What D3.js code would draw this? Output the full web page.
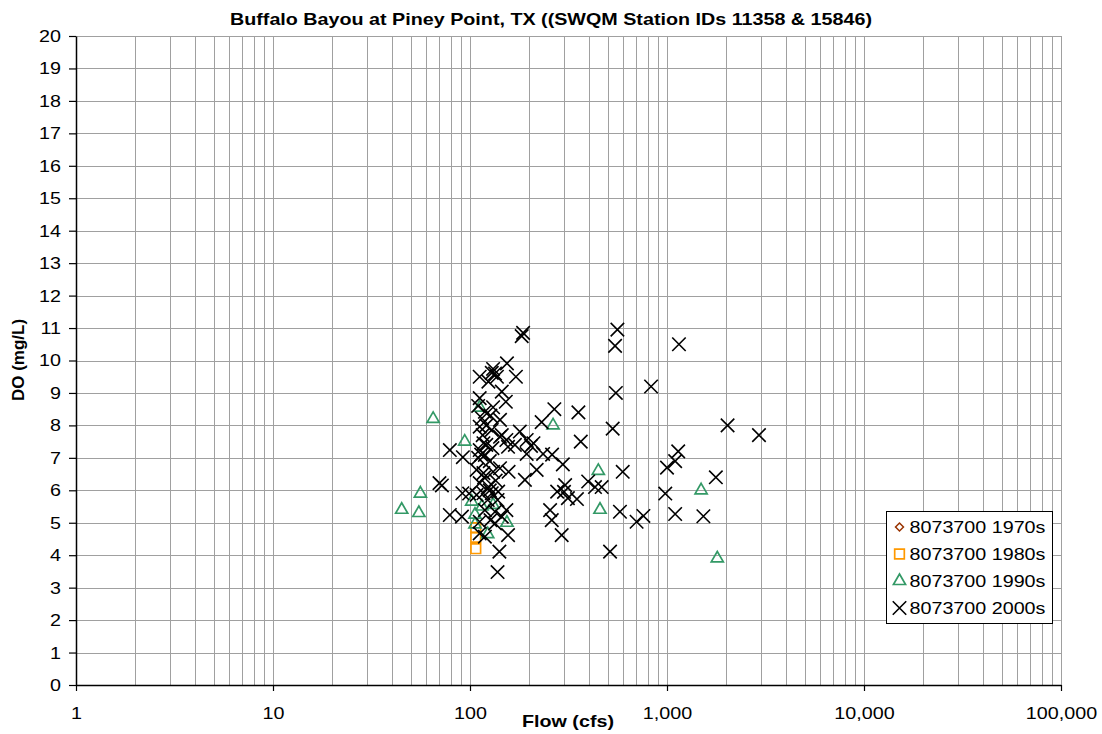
<!DOCTYPE html>
<html lang="en">
<head>
    <meta charset="UTF-8">
    <title>Buffalo Bayou at Piney Point</title>
    <script src="https://d3js.org/d3.v7.min.js"></script>
    <style>
        body {
            margin: 0;
            background: #fff;
        }

        svg text {
            font-family: "Liberation Sans", Arial, sans-serif;
            font-size: 17px;
            fill: #000;
        }

        /* the reference text is a bit wider than Arial */
        .sx {
            transform-box: fill-box;
            transform-origin: 50% 50%;
            transform: scaleX(1.16);
        }

        .sx-right {
            transform-origin: 100% 50%;
        }

        .sx-left {
            transform-origin: 0% 50%;
        }

        .bold {
            font-weight: bold;
        }
    </style>
</head>
<body>
    <svg width="1102" height="734" id="svg"></svg>

    <script>
        // flow (cfs), DO (mg/L) pairs for each decade
        const series1970s = [];

        const series1980s = [[107, 4.85], [107, 4.55], [107, 4.2]];

        const series1990s = [
            [45, 5.4], [56, 5.9], [55, 5.3], [65, 8.2], [94, 7.5], [112, 8.55],
            [102, 5.65], [115, 5.5], [131, 5.55], [106, 5.25], [106, 4.95], [123, 4.65],
            [154, 5.0], [264, 8.0], [448, 6.6], [457, 5.4], [1490, 6.0], [1800, 3.9]
        ];

        const series2000s = [
            // right side
            [1150, 10.5], [2030, 8.0], [2930, 7.7], [1140, 7.2], [1100, 6.9], [1000, 6.7],
            [1770, 6.4], [980, 5.9], [1100, 5.27], [1530, 5.2],
            // 200 - 900 cfs
            [560, 10.95], [545, 10.45], [550, 9.0], [830, 9.2], [268, 8.5], [355, 8.4],
            [231, 8.1], [530, 7.9], [365, 7.5], [235, 7.12], [261, 7.1], [296, 6.8],
            [596, 6.57], [398, 6.27], [431, 6.1], [466, 6.1], [277, 5.96], [304, 6.16],
            [314, 5.76], [349, 5.73], [300, 5.95], [255, 5.39], [260, 5.08], [292, 4.62],
            [577, 5.34], [701, 5.03], [759, 5.21], [514, 4.11],
            // 70 - 220 cfs
            [218, 6.63], [190, 6.32], [204, 7.37], [194, 7.12], [179, 7.81], [171, 9.5],
            [154, 9.91], [156, 4.62], [153, 5.39], [141, 4.11], [138, 3.48], [79, 7.24],
            [92, 7.02], [70, 6.22], [72, 6.15], [79, 5.24], [91, 5.19], [91.5, 5.91],
            [99, 5.9], [183, 10.75], [186, 10.85],
            // dense cluster around 100 - 160 cfs
            [112, 9.5], [129, 9.62], [134, 9.6], [124, 9.35], [131, 9.74], [145, 9.04],
            [112, 8.84], [152, 8.73], [131, 8.56], [115, 8.22], [119, 8.42], [142, 8.17],
            [145, 7.7], [117, 7.45], [112, 7.24], [121, 7.4], [119, 7.09], [130, 7.3],
            [110, 7.0], [156, 7.34], [169, 7.4], [112, 7.96], [129, 7.86], [142, 7.65],
            [153, 7.55], [194, 7.55], [210, 7.45], [108, 6.63], [117, 6.53], [131, 6.57],
            [142, 6.68], [157, 6.57], [112, 6.22], [124, 6.11], [117, 5.91], [129, 5.91],
            [139, 5.96], [108, 5.86], [119, 5.39], [134, 5.34], [145, 5.19], [112, 5.03],
            [127, 5.08], [134, 4.98], [112, 4.67], [119, 4.57], [114, 7.1], [126, 6.9],
            [118, 6.4], [135, 6.3], [123, 5.7], [138, 5.7], [126, 6.0], [116, 7.7],
            [121, 8.0], [127, 8.3], [110, 8.6], [137, 9.5]
        ];

        const xTicks = [1, 10, 100, 1000, 10000, 100000];
        const yTicks = d3.range(0, 21);
        const legendLabels = ["8073700 1970s", "8073700 1980s", "8073700 1990s", "8073700 2000s"];

        const chartTitle = "Buffalo Bayou at Piney Point, TX ((SWQM Station IDs 11358 & 15846)";

        const svg = d3.select("#svg");
        const plot = { left: 76, right: 1061, top: 36, bottom: 685 };

        const xScale = d3.scaleLog()
            .domain([1, 100000])
            .range([plot.left, plot.right]);

        const yScale = d3.scaleLinear()
            .domain([0, 20])
            .range([plot.bottom, plot.top]);

        // marker styles per decade
        const markers = [
            { data: series1970s, type: d3.symbolDiamond2, size: 40, color: "#993300", width: 1.5 },
            { data: series1980s, type: d3.symbolSquare2, size: 118, color: "#ff9900", width: 1.7 },
            { data: series1990s, type: d3.symbolTriangle2, size: 105, color: "#339966", width: 1.7 },
            { data: series2000s, type: d3.symbolX, size: 120, color: "#000000", width: 1.6 }
        ];

        // grid
        const grid = svg.append("g");
        grid.selectAll("line.h")
            .data(yTicks)
            .enter()
            .append("line")
            .attr("x1", plot.left)
            .attr("x2", plot.right)
            .attr("y1", d => Math.round(yScale(d)) + 0.5)
            .attr("y2", d => Math.round(yScale(d)) + 0.5)
            .attr("stroke", "#a0a0a0")
            .attr("stroke-width", 1);

        grid.selectAll("line.v")
            .data(xScale.ticks())
            .enter()
            .append("line")
            .attr("x1", d => Math.round(xScale(d)) + 0.5)
            .attr("x2", d => Math.round(xScale(d)) + 0.5)
            .attr("y1", plot.top)
            .attr("y2", plot.bottom)
            .attr("stroke", "#a0a0a0")
            .attr("stroke-width", 1);

        // axes
        const yAxis = d3.axisLeft(yScale)
            .tickValues(yTicks)
            .tickSize(7)
            .tickSizeOuter(0)
            .tickPadding(8);

        const xAxis = d3.axisBottom(xScale)
            .tickValues(xTicks)
            .tickFormat(d3.format(","))
            .tickSize(6)
            .tickSizeOuter(0)
            .tickPadding(16);

        const gy = svg.append("g")
            .attr("transform", `translate(${plot.left},0)`)
            .call(yAxis);

        const gx = svg.append("g")
            .attr("transform", `translate(0,${plot.bottom})`)
            .call(xAxis);

        [gx, gy].forEach(g => {
            g.attr("font-size", null).attr("font-family", null);
            g.select(".domain").attr("stroke", "#000").attr("stroke-width", 1.5);
            g.selectAll(".tick line").attr("stroke", "#000").attr("stroke-width", 1.2);
        });
        gy.selectAll(".tick text").attr("class", "sx sx-right");
        gx.selectAll(".tick text").attr("class", "sx");

        // points
        markers.forEach(m => {
            svg.append("g")
                .selectAll("path")
                .data(m.data)
                .enter()
                .append("path")
                .attr("transform", d => `translate(${xScale(d[0])},${yScale(d[1])})`)
                .attr("d", d3.symbol().type(m.type).size(m.size))
                .attr("fill", "none")
                .attr("stroke", m.color)
                .attr("stroke-width", m.width);
        });

        // legend
        const legend = svg.append("g").attr("transform", "translate(886.5,511.5)");
        legend.append("rect")
            .attr("width", 166)
            .attr("height", 112)
            .attr("fill", "#fff")
            .attr("stroke", "#000")
            .attr("stroke-width", 1);

        const rows = legend.selectAll("g.row")
            .data(markers)
            .enter()
            .append("g")
            .attr("transform", (d, i) => `translate(0,${15.5 + i * 27})`);

        rows.append("path")
            .attr("transform", "translate(13,0)")
            .attr("d", m => d3.symbol().type(m.type).size(m.size)())
            .attr("fill", "none")
            .attr("stroke", m => m.color)
            .attr("stroke-width", m => m.width);

        rows.append("text")
            .attr("class", "sx sx-left")
            .attr("x", 23)
            .attr("dy", "0.35em")
            .text((d, i) => legendLabels[i]);

        // title and axis labels
        svg.append("text")
            .attr("class", "sx bold")
            .attr("x", 551)
            .attr("y", 25)
            .attr("text-anchor", "middle")
            .text(chartTitle);

        svg.append("text")
            .attr("class", "sx bold")
            .attr("x", 568)
            .attr("y", 727)
            .attr("text-anchor", "middle")
            .text("Flow (cfs)");

        svg.append("text")
            .attr("class", "bold")
            .attr("transform", "rotate(-90)")
            .attr("x", -360)
            .attr("y", 24)
            .attr("font-size", "18px")
            .attr("text-anchor", "middle")
            .text("DO (mg/L)");
    </script>
</body>
</html>
